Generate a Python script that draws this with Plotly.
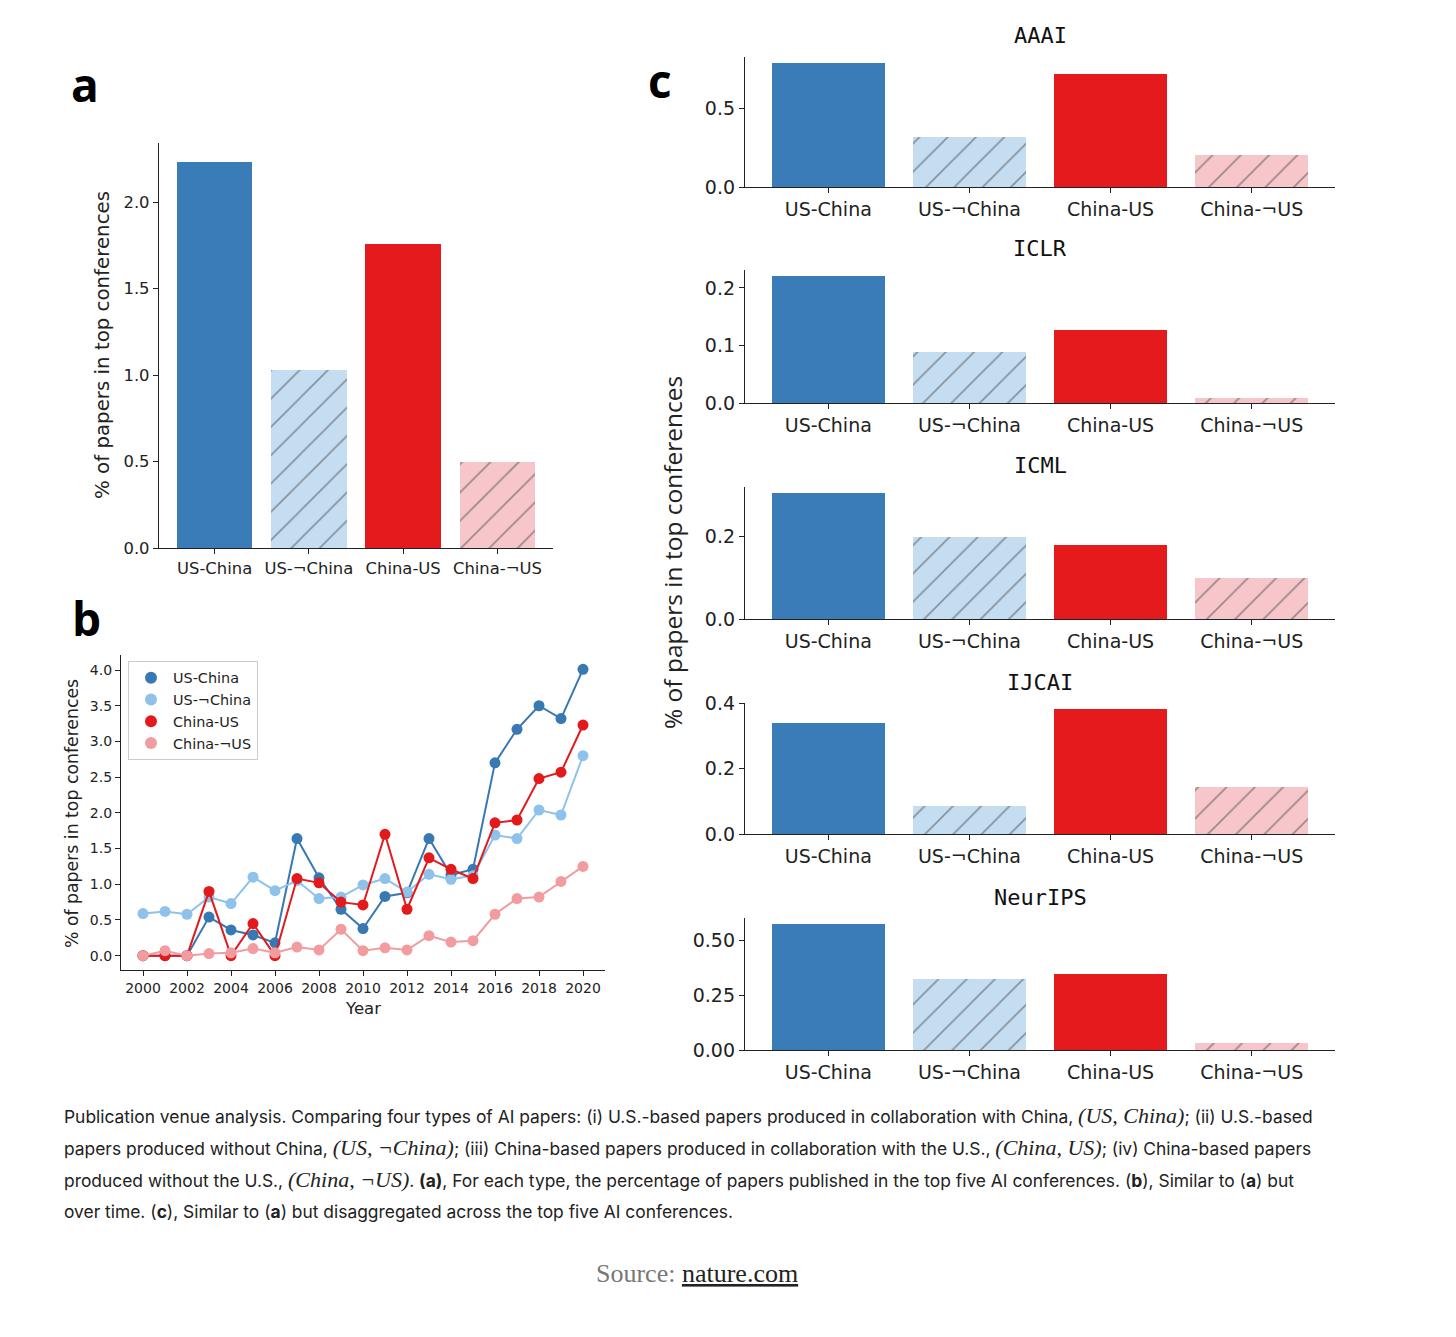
import plotly.graph_objects as go

# ---------------- data ----------------
categories = ["US-China", "US-¬China", "China-US", "China-¬US"]
overall_pct = [2.23, 1.03, 1.76, 0.50]

years = list(range(2000, 2021))
us_china = [0.0, 0.0, 0.0, 0.54, 0.36, 0.29, 0.18, 1.64, 1.09, 0.65, 0.38,
            0.83, 0.88, 1.64, 1.13, 1.21, 2.70, 3.17, 3.50, 3.32, 4.01]
us_not_china = [0.59, 0.62, 0.58, 0.82, 0.73, 1.10, 0.91, 1.05, 0.80, 0.82, 0.99,
                1.08, 0.89, 1.14, 1.07, 1.12, 1.69, 1.64, 2.04, 1.97, 2.80]
china_us = [0.0, 0.0, 0.0, 0.90, 0.0, 0.45, 0.0, 1.08, 1.02, 0.75, 0.71,
            1.70, 0.65, 1.37, 1.21, 1.08, 1.86, 1.90, 2.48, 2.57, 3.23]
china_not_us = [0.0, 0.07, 0.0, 0.03, 0.04, 0.10, 0.04, 0.12, 0.08, 0.37, 0.07,
                0.11, 0.08, 0.28, 0.19, 0.21, 0.58, 0.80, 0.82, 1.04, 1.25]

conferences = ["AAAI", "ICLR", "ICML", "IJCAI", "NeurIPS"]
aaai = [0.79, 0.32, 0.72, 0.206]
iclr = [0.22, 0.089, 0.126, 0.008]
icml = [0.306, 0.20, 0.181, 0.10]
ijcai = [0.34, 0.086, 0.381, 0.144]
neurips = [0.575, 0.326, 0.349, 0.034]
conf_values = [aaai, iclr, icml, ijcai, neurips]

conf_ticks = [[0, 0.5], [0, 0.1, 0.2], [0, 0.2], [0, 0.2, 0.4], [0, 0.25, 0.5]]
conf_ticktext = [["0.0", "0.5"], ["0.0", "0.1", "0.2"], ["0.0", "0.2"],
                 ["0.0", "0.2", "0.4"], ["0.00", "0.25", "0.50"]]
a_ticks = [0, 0.5, 1.0, 1.5, 2.0]
b_yticks = [0, 0.5, 1.0, 1.5, 2.0, 2.5, 3.0, 3.5, 4.0]
b_xticks = list(range(2000, 2021, 2))

# ---------------- style ----------------
W, H = 1456, 1337
bar_colors = ["#3a7cb8", "#c5ddf0", "#e41a1c", "#f6c6ca"]
bar_shapes = ["", "/", "", "/"]
line_colors = ["#3878b3", "#8fc2ea", "#e31a1c", "#f29ca0"]
AX = "#222222"
MPL = "DejaVu Sans"


def px_x(p):
    return p / W


def px_y(p):
    return 1 - p / H


def axis_style(font_size, **kw):
    d = dict(showline=True, linecolor=AX, linewidth=1.3, ticks="outside",
             ticklen=5, tickwidth=1.2, tickcolor=AX, showgrid=False,
             zeroline=False, mirror=False, automargin=False,
             tickfont=dict(family=MPL, size=font_size, color="#222"))
    d.update(kw)
    return d


fig = go.Figure()
xpos = list(range(len(categories)))


def add_bars(values, xa, ya):
    fig.add_trace(go.Bar(
        x=xpos, y=values, width=0.8, xaxis=xa, yaxis=ya, showlegend=False,
        marker=dict(color=bar_colors, line=dict(width=0),
                    pattern=dict(shape=bar_shapes, fillmode="overlay",
                                 fgcolor="#666666", size=20, solidity=0.08)),
        hoverinfo="skip"))


# panel a
add_bars(overall_pct, "x", "y")
layout = dict(
    width=W, height=H, margin=dict(l=0, r=0, t=0, b=0, pad=0, autoexpand=False),
    paper_bgcolor="white", plot_bgcolor="white",
    bargap=0,
)
layout["xaxis"] = axis_style(16.4, domain=[px_x(159), px_x(553)],
                             range=[-0.59, 3.59], tickvals=xpos,
                             ticktext=categories, anchor="y")
layout["yaxis"] = axis_style(16.4, domain=[px_y(548), px_y(143)],
                             range=[0, max(overall_pct) * 1.05],
                             tickvals=a_ticks,
                             ticktext=[f"{v:.1f}" for v in a_ticks], anchor="x")

# panel b
series = [("US-China", us_china), ("US-¬China", us_not_china),
          ("China-US", china_us), ("China-¬US", china_not_us)]
for (name, vals), col in zip(series, line_colors):
    fig.add_trace(go.Scatter(
        x=years, y=vals, mode="lines+markers", xaxis="x2", yaxis="y2",
        line=dict(color=col, width=2), marker=dict(color=col, size=11),
        showlegend=False, hoverinfo="skip"))
for (name, vals), col in zip(series, line_colors):
    fig.add_trace(go.Scatter(
        x=[None], y=[None], mode="markers", name=name, xaxis="x2", yaxis="y2",
        marker=dict(color=col, size=11), showlegend=True))
allb = us_china + us_not_china + china_us + china_not_us
bspan = max(allb) - min(allb)
layout["xaxis2"] = axis_style(14, domain=[px_x(121), px_x(605)],
                              range=[1999, 2021], tickvals=b_xticks, anchor="y2")
layout["yaxis2"] = axis_style(14, domain=[px_y(970), px_y(655)],
                              range=[min(allb) - 0.05 * bspan, max(allb) + 0.05 * bspan],
                              tickvals=b_yticks,
                              ticktext=[f"{v:.1f}" for v in b_yticks], anchor="x2")
layout["legend"] = dict(x=px_x(128), y=px_y(661), xanchor="left", yanchor="top",
                        bordercolor="#cccccc", borderwidth=1, bgcolor="white",
                        font=dict(family=MPL, size=14.4, color="#222"),
                        itemsizing="constant", tracegroupgap=0,
                        itemwidth=34)

# panel c
c_tops = [57, 270, 487, 703, 918]
c_bottoms = [187, 403, 619, 834, 1050]
annotations = []


def ann(text, x, y, size, family=MPL, color="#222", xanchor="center", angle=0):
    return dict(text=text, x=px_x(x), y=px_y(y), xref="paper", yref="paper",
                showarrow=False, xanchor=xanchor, yanchor="middle", textangle=angle,
                font=dict(family=family, size=size, color=color))


for i, (conf, vals) in enumerate(zip(conferences, conf_values)):
    n = i + 3
    xa, ya = f"x{n}", f"y{n}"
    add_bars(vals, xa, ya)
    layout[f"xaxis{n}"] = axis_style(19, domain=[px_x(745), px_x(1335)],
                                     range=[-0.59, 3.59], tickvals=xpos,
                                     ticktext=categories, anchor=ya)
    layout[f"yaxis{n}"] = axis_style(19, domain=[px_y(c_bottoms[i]), px_y(c_tops[i])],
                                     range=[0, max(vals) * 1.05],
                                     tickvals=conf_ticks[i],
                                     ticktext=conf_ticktext[i], anchor=xa)
    annotations.append(ann(conf, 1040, c_tops[i] - 21, 22,
                           family="DejaVu Sans Mono", color="#111"))

ylab = "% of papers in top conferences"
annotations += [
    ann(ylab, 103, 345, 19.8, angle=-90),
    ann(ylab, 72, 814, 17.3, angle=-90),
    ann("Year", 363, 1008, 16.5),
    ann(ylab, 672, 553, 24.5, family="Open Sans", angle=-90),
]
for lab, (lx, ly) in zip(["a", "b", "c"], [(85, 84), (86, 618), (660, 80)]):
    annotations.append(ann(f"<b>{lab}</b>", lx, ly, 46, family="Open Sans", color="#000"))


def m(t):
    return f'<span style="font-family:Liberation Serif;font-style:italic;font-size:22px">{t}</span>'


caption_lines = [
    "Publication venue analysis. Comparing four types of AI papers: (i) U.S.-based papers produced in collaboration with China, "
    + m("(US, China)") + "; (ii) U.S.-based",
    "papers produced without China, " + m("(US, ¬China)")
    + "; (iii) China-based papers produced in collaboration with the U.S., " + m("(China, US)")
    + "; (iv) China-based papers",
    "produced without the U.S., " + m("(China, ¬US)")
    + ". <b>(a)</b>, For each type, the percentage of papers published in the top five AI conferences. (<b>b</b>), Similar to (<b>a</b>) but",
    "over time. (<b>c</b>), Similar to (<b>a</b>) but disaggregated across the top five AI conferences.",
]
for k, line in enumerate(caption_lines):
    annotations.append(ann(line, 62, 1115 + 32 * k, 17.4, family="Inter",
                           xanchor="left"))
annotations.append(ann(
    '<span style="color:#777">Source: </span><span style="text-decoration:underline">nature.com</span>',
    697, 1273, 26, family="Liberation Serif"))

layout["annotations"] = annotations
fig.update_layout(**layout)
fig.write_html("out.html", config={"displayModeBar": False},
               post_script="document.body.style.margin='0';")
